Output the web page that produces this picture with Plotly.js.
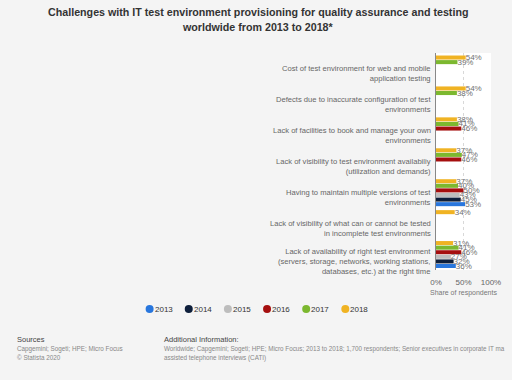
<!DOCTYPE html>
<html>
<head>
<meta charset="utf-8">
<script src="https://cdn.plot.ly/plotly-3.0.1.min.js"></script>
<style>
html,body{margin:0;padding:0;background:#f4f4f4;}
#chart{width:512px;height:380px;}
</style>
</head>
<body>
<div id="chart"></div>
<script>
const categories = [
  "Cost of test environment for web and mobile<br>application testing",
  "Defects due to inaccurate configuration of test<br>environments",
  "Lack of facilities to book and manage your own<br>environments",
  "Lack of visibility to test environment availabiliy<br>(utilization and demands)",
  "Having to maintain multiple versions of test<br>environments",
  "Lack of visibility of what can or cannot be tested<br>in incomplete test environments",
  "Lack of availability of right test environment<br>(servers, storage, networks, working stations,<br>databases, etc.) at the right time"
];
const years = ["2018", "2017", "2016", "2015", "2014", "2013"];
const v2018 = [54, 54, 38, 37, 37, 34, 31];
const v2017 = [39, 38, 41, 47, 40, null, 41];
const v2016 = [null, null, 46, 46, 50, null, 46];
const v2015 = [null, null, null, null, 43, null, 27];
const v2014 = [null, null, null, null, 45, null, 32];
const v2013 = [null, null, null, null, 53, null, 36];
const xTickVals = [0, 50, 100];
const xTickText = ["0%", "50%", "100%"];
const legendYears = ["2013", "2014", "2015", "2016", "2017", "2018"];

const seriesValues = [v2018, v2017, v2016, v2015, v2014, v2013];
const colors = {"2013":"#2876dd","2014":"#0e1f3b","2015":"#bdbdbd","2016":"#a50f0f","2017":"#7cb82f","2018":"#f0b323"};
const FONT = "Liberation Sans, Arial, sans-serif";

// plot area in pixels
const W = 512, H = 380;
const L = 436, R = 491.5, T = 53, B = 270;
const px = x => (x - L) / (R - L);
const py = y => (B - y) / (B - T);
const PADX = 6; // annotation text padding correction

const data = years.map((yr, i) => {
  const vals = seriesValues[i];
  return {
    type: "bar",
    orientation: "h",
    name: yr,
    y: categories,
    x: vals,
    text: vals.map(v => v === null ? "" : v + "%"),
    textposition: "outside",
    constraintext: "none",
    cliponaxis: false,
    textfont: {family: FONT, size: 8, color: "#707070"},
    marker: {color: colors[yr]},
    showlegend: false,
    hoverinfo: "x+name"
  };
});

const footFont = {family: FONT, size: 6.3, color: "#888"};
const footHead = {family: FONT, size: 7.5, color: "#444"};
const ann = (x, y, text, font, xanchor) => ({
  xref: "paper", yref: "paper",
  x: px(xanchor === "center" ? x : x - PADX), y: py(y),
  xanchor: xanchor || "left", yanchor: "middle",
  text: text, showarrow: false, font: font, align: "left"
});

const titleFont = {family: FONT, size: 10.7, color: "#333"};
const annotations = [
  ann(256, 11.5, "<b>Challenges with IT test environment provisioning for quality assurance and testing</b>", titleFont, "center"),
  ann(256, 27, "<b>worldwide from 2013 to 2018*</b>", titleFont, "center"),
  ann(17, 339, "Sources", footHead),
  ann(17, 349, "Capgemini; Sogeti; HPE; Micro Focus", footFont),
  ann(17, 357.5, "© Statista 2020", footFont),
  ann(166, 339, "Additional Information:", footHead),
  ann(166, 349, "Worldwide; Capgemini; Sogeti; HPE; Micro Focus; 2013 to 2018; 1,700 respondents; Senior executives in corporate IT ma", footFont),
  ann(166, 357.5, "assisted telephone interviews (CATI)", footFont),
  ann(463.5, 293, "Share of respondents", {family: FONT, size: 7, color: "#777"}, "center")
];

// category labels (right-aligned, left of the axis)
categories.forEach((c, i) => {
  const lines = c.split("<br>").length;
  annotations.push({
    xref: "paper", yref: "y", x: px(433), y: i,
    xanchor: "right", yanchor: "middle", align: "right",
    yshift: -(2 + 2.5 * (lines - 1)),
    text: c, showarrow: false,
    font: {family: FONT, size: 7.6, color: "#666666"}
  });
});

// manual legend: round swatches + labels
const shapes = [];
const legendX0 = 147, legendStep = 39.5, legendY = 309;
legendYears.forEach((yr, i) => {
  const cx = legendX0 + i * legendStep;
  shapes.push({
    type: "circle", xref: "paper", yref: "paper",
    xsizemode: "pixel", ysizemode: "pixel",
    xanchor: px(cx), yanchor: py(legendY),
    x0: -4, x1: 4, y0: -4, y1: 4,
    fillcolor: colors[yr], line: {width: 0}
  });
  annotations.push(ann(cx + 9, legendY, yr, {family: FONT, size: 8, color: "#333"}));
});

const layout = {
  width: W, height: H,
  paper_bgcolor: "#f4f4f4",
  plot_bgcolor: "#ffffff",
  margin: {l: L, r: W - R, t: T, b: H - B, pad: 0},
  font: {family: FONT},
  showlegend: false,
  barmode: "group",
  bargap: 0.11,
  bargroupgap: 0.12,
  xaxis: {
    range: [0, 100],
    tickmode: "array",
    tickvals: xTickVals,
    ticktext: xTickText,
    tickfont: {size: 8, color: "#666"},
    ticklabelstandoff: 6,
    showgrid: true,
    gridcolor: "#d8d8d8",
    griddash: "dot",
    zeroline: false,
    showline: false,
    automargin: false,
    fixedrange: true
  },
  yaxis: {
    type: "category",
    autorange: "reversed",
    showticklabels: false,
    showline: true,
    linecolor: "#888",
    linewidth: 1,
    showgrid: false,
    ticks: "",
    automargin: false,
    fixedrange: true
  },
  shapes: shapes,
  annotations: annotations
};

Plotly.newPlot("chart", data, layout, {displayModeBar: false, staticPlot: true});
</script>
</body>
</html>
